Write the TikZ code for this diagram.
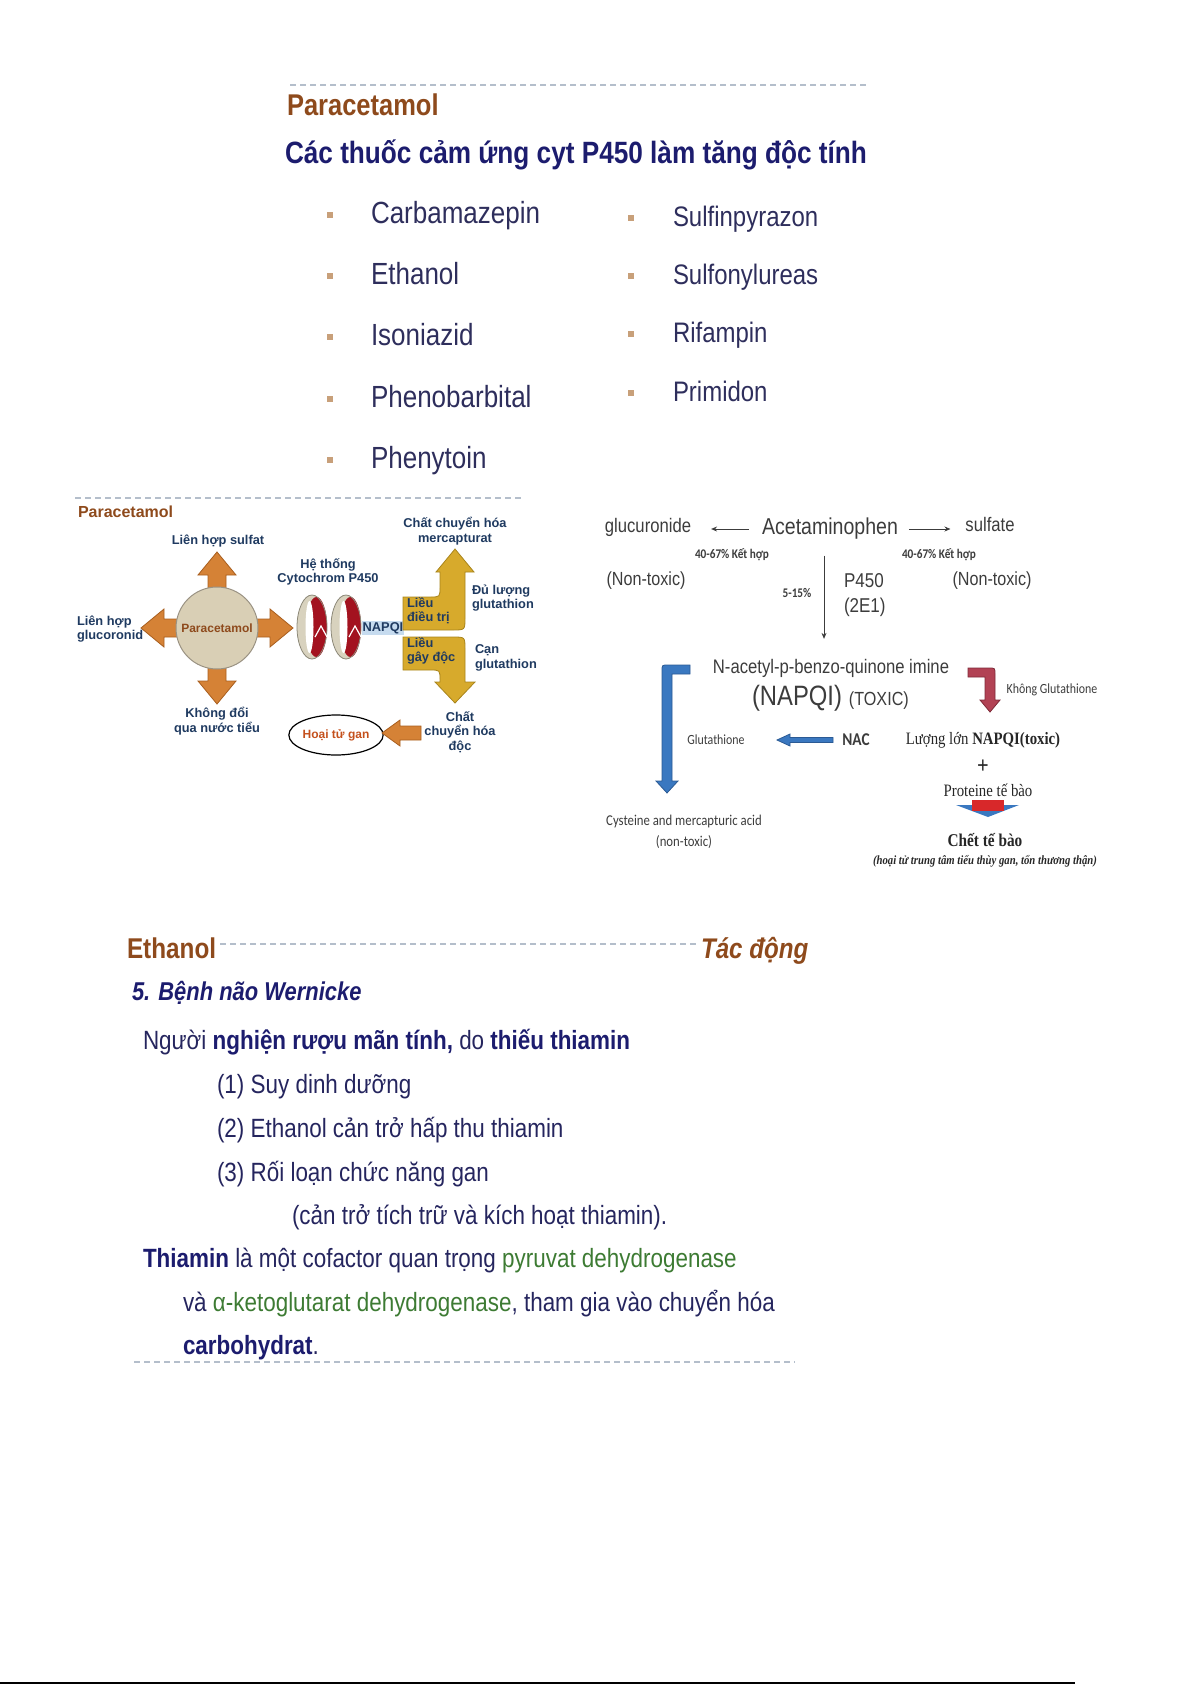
\documentclass[tikz,border=0pt]{standalone}
\usepackage{fontspec}
\setmainfont{Liberation Sans}[FakeStretch=0.85]
\newfontfamily\plainsf{Liberation Sans}
\newfontfamily\serifn{Liberation Serif}[FakeStretch=0.85]
\newfontfamily\calib{Carlito}[FakeStretch=0.85]
\usetikzlibrary{arrows.meta, positioning, calc, shapes.geometric}

\definecolor{headbrown}{HTML}{8E4A1C}
\definecolor{titlenavy}{HTML}{1C1C6E}
\definecolor{drugnavy}{HTML}{2E2E5C}
\definecolor{bulletc}{HTML}{C8A07A}
\definecolor{dashc}{HTML}{B4BECB}
\definecolor{lblnavy}{HTML}{1F3A60}
\definecolor{orangef}{HTML}{D58236}
\definecolor{oranged}{HTML}{A85E1E}
\definecolor{goldf}{HTML}{D7AA2C}
\definecolor{goldd}{HTML}{A8841C}
\definecolor{circf}{HTML}{D9CFB5}
\definecolor{circd}{HTML}{9A9283}
\definecolor{ringbeige}{HTML}{D8D2BE}
\definecolor{ringedge}{HTML}{8C8878}
\definecolor{ringred}{HTML}{A3121F}
\definecolor{napqibg}{HTML}{C6DBEF}
\definecolor{necrosis}{HTML}{C4501C}
\definecolor{txtgray}{HTML}{3C3C3C}
\definecolor{arrblue}{HTML}{3A78C0}
\definecolor{arrbluedk}{HTML}{2B5A94}
\definecolor{arrred}{HTML}{B24254}
\definecolor{arrreddk}{HTML}{7E2A38}
\definecolor{cellred}{HTML}{D8282A}
\definecolor{greentxt}{HTML}{3D7B33}
\definecolor{bodynavy}{HTML}{25255E}

\begin{document}
\begin{tikzpicture}[
    x=0.5pt, y=-0.5pt, >=Latex,
    every node/.style={inner sep=0pt, outer sep=0pt},
    heading/.style={font=\fontsize{15}{18}\selectfont\bfseries, text=headbrown, anchor=mid west},
    slidetitle/.style={font=\fontsize{15.4}{18}\selectfont\bfseries, text=titlenavy, anchor=mid west},
    drug/.style={font=\fontsize{15.3}{18}\selectfont, text=drugnavy, anchor=mid west},
    bullet/.style={fill=bulletc, minimum size=3.4pt},
    sepline/.style={dashc, line width=0.8pt, dash pattern=on 3pt off 2pt},
    dlbl/.style={font=\plainsf\fontsize{6.4}{7.2}\selectfont\bfseries, text=lblnavy, align=center},
    orangearr/.style={fill=orangef, draw=oranged, line width=0.4pt},
    goldarr/.style={fill=goldf, draw=goldd, line width=0.4pt},
    gtext/.style={text=txtgray, font=\fontsize{9.8}{12}\selectfont},
    thinarr/.style={txtgray, line width=0.5pt, -{Stealth[length=3pt, width=2.5pt]}},
    smalllbl/.style={font=\calib\fontsize{6.6}{7.5}\selectfont\bfseries, text=txtgray},
    serifl/.style={font=\serifn\fontsize{8.7}{10}\selectfont, text=black!85},
    body/.style={font=\fontsize{13.2}{16}\selectfont, text=bodynavy, anchor=mid west}
]

    \useasboundingbox (0,0) rectangle (1192,1685);

    % ---- slide 1: enzyme inducers
    \draw[sepline] (290,85) -- (868,85);
    \node[heading] (parahead) at (287,110) {Paracetamol};
    \node[slidetitle] (inducers) at (285,158) {Các thuốc cảm ứng cyt P450 làm tăng độc tính};
    \foreach \d/\y [count=\i] in {Carbamazepin/218, Ethanol/279, Isoniazid/340, Phenobarbital/402, Phenytoin/463} {
        \node[bullet] (bl\i) at (330,\y-3) {};
        \node[drug] (dl\i) at (371,\y) {\d};
    }
    \foreach \d/\y [count=\i] in {Sulfinpyrazon/221, Sulfonylureas/279, Rifampin/337, Primidon/396} {
        \node[bullet] (br\i) at (631,\y-3) {};
        \node[drug, font=\fontsize{14.1}{17}\selectfont] (dr\i) at (673,\y) {\d};
    }

    % ---- left diagram: paracetamol pathways
    \draw[sepline] (75,498) -- (523,498);
    \node[font=\plainsf\fontsize{8}{9}\selectfont\bfseries, text=headbrown, anchor=mid west] (paradiag) at (78,512) {Paracetamol};
    \coordinate (pc) at (217,628);
    \foreach \a in {0,90,180,270}
        \draw[orangearr, shift={(pc)}, rotate=\a] (30,-9) -- (53,-9) -- (53,-19) -- (76,0) -- (53,19) -- (53,9) -- (30,9) -- cycle;
    \node[circle, fill=circf, draw=circd, line width=0.5pt, minimum size=41pt,
          font=\plainsf\fontsize{6}{7}\selectfont\bfseries, text=headbrown] (paranode) at (pc) {Paracetamol};
    \node[dlbl] (sulfat) at (218,541) {Liên hợp sulfat};
    \node[dlbl, align=left, anchor=west] (glucor) at (77,629) {Liên hợp\\glucoronid};
    \node[dlbl] (unchanged) at (217,721) {Không đổi\\qua nước tiểu};
    \node[dlbl] (cyp) at (328,572) {Hệ thống\\Cytochrom P450};

    % cytochrome rings
    \foreach \cx in {312,346} {
        \fill[ringbeige] (\cx,627) ellipse [x radius=15, y radius=32];
        \fill[ringred] (\cx+4.5,627) ellipse [x radius=10.5, y radius=30];
        \fill[white] (\cx-2.5,627) ellipse [x radius=4, y radius=26];
        \draw[ringedge, line width=0.4pt] (\cx,627) ellipse [x radius=15, y radius=32];
        \draw[white, line width=0.6pt, fill=ringred] (\cx+3,637) -- (\cx+9,626) -- (\cx+15,637);
    }
    \node[dlbl, fill=napqibg, inner sep=0.6pt] (napqi) at (383,628) {NAPQI};

    % gold branches
    \draw[goldarr] (403,630) -- (403,597) -- (430,597) .. controls (440,597) .. (440,587) -- (440,572)
        -- (436,572) -- (455,549) -- (474,572) -- (465,572) -- (465,618) .. controls (465,630) .. (453,630) -- cycle;
    \draw[goldarr] (403,637) -- (403,670) -- (430,670) .. controls (440,670) .. (440,680) -- (440,682)
        -- (435,682) -- (455,703) -- (475,682) -- (465,682) -- (465,649) .. controls (465,637) .. (453,637) -- cycle;
    \node[dlbl, align=left, anchor=west] (therap) at (407,611) {Liều\\điều trị};
    \node[dlbl, align=left, anchor=west] (toxdose) at (407,651) {Liều\\gây độc};
    \node[dlbl] (mercap) at (455,531) {Chất chuyển hóa\\mercapturat};
    \node[dlbl, align=left, anchor=west] (enough) at (472,598) {Đủ lượng\\glutathion};
    \node[dlbl, align=left, anchor=west] (deplete) at (475,658) {Cạn\\glutathion};
    \node[dlbl] (toxmet) at (460,732) {Chất\\chuyển hóa\\độc};
    \node[draw, ellipse, line width=0.6pt, minimum width=44.5pt, minimum height=20pt,
          font=\plainsf\fontsize{6}{7}\selectfont\bfseries, text=necrosis] (necro) at (336,735) {Hoại tử gan};
    \draw[orangearr] (421,726) -- (400,726) -- (400,720) -- (382,733) -- (400,746) -- (400,740) -- (421,740) -- cycle;

    % ---- right diagram: acetaminophen metabolism
    \node[gtext, font=\fontsize{11.5}{13}\selectfont] (acet) at (830,529) {Acetaminophen};
    \node[gtext] (glucr) at (648,527) {glucuronide};
    \node[gtext] (sulfate) at (990,524) {sulfate};
    \draw[thinarr, shorten <=6.5pt, shorten >=10pt] (acet.west) -- (acet.west -| glucr.east);
    \draw[thinarr, shorten <=5.5pt, shorten >=7.5pt] (acet.east) -- (acet.east -| sulfate.west);
    \node[smalllbl] (pctL) at (732,555) {40-67\% Kết hợp};
    \node[smalllbl] (pctR) at (939,555) {40-67\% Kết hợp};
    \node[gtext, font=\fontsize{9.5}{11}\selectfont] (ntL) at (646,581) {(Non-toxic)};
    \node[gtext, font=\fontsize{9.5}{11}\selectfont] (ntR) at (992,581) {(Non-toxic)};
    \node[smalllbl] (pct515) at (797,593) {5-15\%};
    \node[gtext, font=\fontsize{10}{12.5}\selectfont, align=left, anchor=west] (p450) at (844,595) {P450\\(2E1)};
    \node[gtext] (nacetyl) at (831,668) {N-acetyl-p-benzo-quinone imine};
    \node[gtext, font=\fontsize{14}{16}\selectfont] (napqibig) at (797,698) {(NAPQI)};
    \node[gtext, font=\fontsize{9.5}{11}\selectfont, right=3.5pt of napqibig.base east, anchor=base west] (toxic) {(TOXIC)};
    \draw[thinarr, shorten <=8pt, shorten >=10pt] ([xshift=-3pt]acet.south) -- ([xshift=-3pt]acet.south |- nacetyl.north);

    % bent arrows
    \draw[fill=arrblue, draw=arrbluedk, line width=0.4pt] (690,665) -- (668,665) .. controls (662,665) .. (662,671) -- (662,781)
        -- (656,781) -- (667,793) -- (678,781) -- (672,781) -- (672,674) -- (690,674) -- cycle;
    \draw[fill=arrred, draw=arrreddk, line width=0.4pt] (968,668) -- (989,668) .. controls (995,668) .. (995,674) -- (995,700)
        -- (1000,700) -- (990,712) -- (980,700) -- (985,700) -- (985,677) -- (968,677) -- cycle;
    \node[font=\calib\fontsize{7}{8}\selectfont, text=txtgray] (noglut) at (1052,690) {Không Glutathione};
    \node[font=\calib\fontsize{7}{8}\selectfont, text=txtgray] (glut) at (716,740) {Glutathione};
    \node[font=\calib\fontsize{9}{10}\selectfont\bfseries, text=txtgray] (nac) at (856,740) {NAC};
    \draw[fill=arrblue, draw=arrbluedk, line width=0.4pt] (833,737.5) -- (790,737.5) -- (790,734) -- (777,740)
        -- (790,746) -- (790,742.5) -- (833,742.5) -- cycle;
    \node[serifl] (large) at (983,740) {Lượng lớn \textbf{NAPQI(toxic)}};
    \node[serifl, font=\serifn\fontsize{12}{13}\selectfont\bfseries] (plus) at (983,767) {+};
    \node[serifl] (protein) at (988,790) {Proteine tế bào};
    \fill[arrblue] (956,805) -- (1019,805) -- (988,817) -- cycle;
    \fill[cellred] (972,800) rectangle (1004,811);
    \node[serifl, font=\serifn\fontsize{9}{10}\selectfont\bfseries] (death) at (985,840) {Chết tế bào};
    \node[serifl, font=\serifn\fontsize{6.3}{7}\selectfont\bfseries\itshape] (necnote) at (985,861) {(hoại tử trung tâm tiểu thùy gan, tổn thương thận)};
    \node[font=\calib\fontsize{7.5}{8.5}\selectfont, text=txtgray] (cyst) at (684,821) {Cysteine and mercapturic acid};
    \node[font=\calib\fontsize{7.5}{8.5}\selectfont, text=txtgray] (cystnt) at (684,842) {(non-toxic)};

    % ---- slide 2: ethanol
    \node[font=\fontsize{14.3}{17}\selectfont\bfseries, text=headbrown, anchor=mid west] (ethhead) at (127,953) {Ethanol};
    \node[font=\fontsize{14.2}{17}\selectfont\bfseries\itshape, text=headbrown, anchor=mid west] (effect) at (701,953) {Tác động};
    \draw[sepline] (220,944) -- (699,944);
    \node[font=\fontsize{12.9}{15}\selectfont\bfseries\itshape, text=titlenavy, anchor=mid west] (wern) at (132,995) {5. Bệnh não Wernicke};
    \node[body] (alco) at (143,1044) {Người \textbf{\color{titlenavy}nghiện rượu mãn tính,} do \textbf{\color{titlenavy}thiếu thiamin}};
    \node[body] (c1) at (217,1088) {(1) Suy dinh dưỡng};
    \node[body] (c2) at (217,1132) {(2) Ethanol cản trở hấp thu thiamin};
    \node[body] (c3) at (217,1176) {(3) Rối loạn chức năng gan};
    \node[body] (c3b) at (292,1219) {(cản trở tích trữ và kích hoạt thiamin).};
    \node[body] (thia) at (143,1262) {\textbf{\color{titlenavy}Thiamin} là một cofactor quan trọng \textcolor{greentxt}{pyruvat dehydrogenase}};
    \node[body] (thia2) at (183,1306) {và \textcolor{greentxt}{α-ketoglutarat dehydrogenase}, tham gia vào chuyển hóa};
    \node[body] (thia3) at (183,1349) {\textbf{\color{titlenavy}carbohydrat}.};
    \draw[sepline] (134,1362) -- (795,1362);

    % page edge
    \draw[black, line width=1.2pt] (0,1683) -- (1075,1683);

\end{tikzpicture}
\end{document}
